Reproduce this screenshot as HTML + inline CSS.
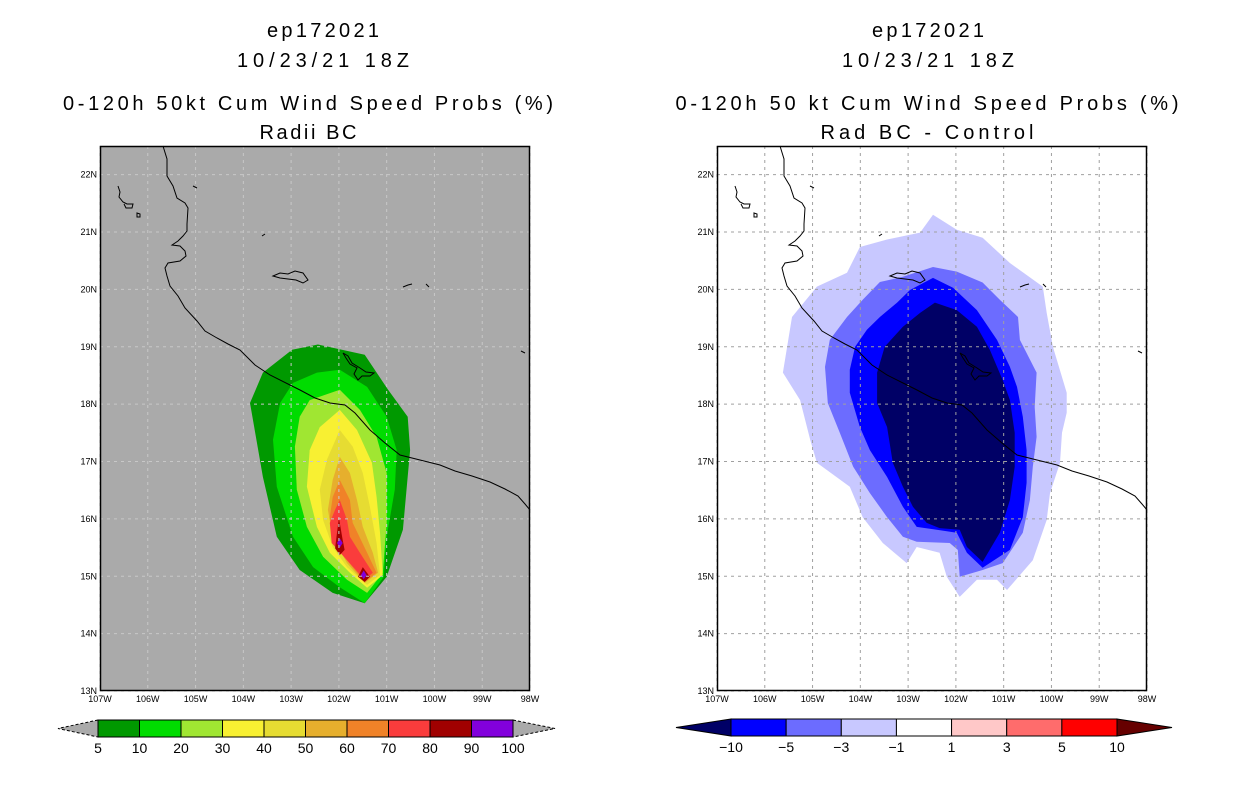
<!DOCTYPE html>
<html><head><meta charset="utf-8"><style>
html,body{margin:0;padding:0;background:#fff;}
svg{display:block;font-family:"Liberation Sans",sans-serif;}
</style></head><body>
<svg id="fig" width="1236" height="800" viewBox="0 0 1236 800">
<g id="titles" fill="#000" font-size="20" text-anchor="middle">
<text x="323" y="37" textLength="112">ep172021</text>
<text x="323" y="67" textLength="172">10/23/21 18Z</text>
<text x="308" y="110" textLength="490">0-120h 50kt Cum Wind Speed Probs (%)</text>
<text x="308" y="139" textLength="97">Radii BC</text>
<text x="928" y="37" textLength="112">ep172021</text>
<text x="928" y="67" textLength="172">10/23/21 18Z</text>
<text x="927" y="110" textLength="503">0-120h 50 kt Cum Wind Speed Probs (%)</text>
<text x="927" y="139" textLength="213">Rad BC - Control</text>
</g>
</svg>
<script>
// ---- data: contour polygons (lon in degrees W, lat in degrees N) ----
const leftLevels = [5,10,20,30,40,50,60,70,80,90,100];
const leftColors = ["#009900","#00dc00","#a0e632","#f8f032","#e6dc32","#e6af2d","#f08228","#fa3c3c","#a00000","#8200dc"];
const leftP5 = [[102.98,18.95],[102.44,19.04],[101.46,18.86],[100.97,18.25],[100.56,17.78],[100.51,17.20],[100.66,15.81],[101.0,14.99],[101.46,14.53],[102.13,14.71],[102.82,15.11],[103.30,15.69],[103.59,16.73],[103.86,18.02],[103.59,18.55]];
const leftP10 = [[102.96,18.37],[102.46,18.55],[101.98,18.60],[101.41,18.30],[101.00,17.78],[100.79,17.20],[100.83,16.51],[101.00,15.69],[101.06,14.99],[101.46,14.53],[101.98,14.81],[102.54,15.16],[102.96,15.69],[103.30,16.56],[103.38,17.38],[103.23,18.02]];
const leftP20 = [[102.61,18.07],[101.98,18.25],[101.56,17.90],[101.21,17.43],[101.00,16.80],[101.00,15.93],[101.08,15.06],[101.41,14.71],[101.83,14.94],[102.33,15.34],[102.67,15.86],[102.88,16.51],[102.92,17.26],[102.82,17.78]];
const leftP30 = [[101.98,17.90],[101.62,17.55],[101.31,16.98],[101.21,16.38],[101.14,15.76],[101.08,15.02],[101.41,14.80],[101.77,15.06],[102.19,15.41],[102.46,15.86],[102.67,16.56],[102.61,17.20],[102.40,17.60]];
const leftP40 = [[101.98,17.55],[101.71,17.26],[101.50,16.80],[101.35,16.21],[101.21,15.58],[101.14,15.02],[101.41,14.85],[101.83,15.16],[102.13,15.51],[102.33,15.98],[102.40,16.51],[102.25,17.03]];
const leftP50 = [[101.98,17.08],[101.77,16.80],[101.62,16.33],[101.50,15.86],[101.29,15.41],[101.18,15.06],[101.46,14.88],[101.83,15.23],[102.13,15.69],[102.23,16.16],[102.13,16.68]];
const leftP60 = [[101.98,16.68],[101.77,16.33],[101.71,15.93],[101.41,15.41],[101.21,15.06],[101.46,14.90],[101.83,15.28],[102.13,15.69],[102.19,16.03],[102.13,16.38]];
const leftP70 = [[101.98,16.33],[101.83,15.98],[101.77,15.69],[101.56,15.41],[101.29,15.06],[101.46,14.94],[101.83,15.28],[102.15,15.58],[102.19,15.93],[102.08,16.16]];
const leftP80a = [[102.00,16.02],[101.92,15.63],[101.88,15.46],[101.98,15.37],[102.08,15.49],[102.04,15.76]];
const leftP80b = [[101.50,15.16],[101.35,14.99],[101.46,14.90],[101.60,14.99]];
const leftP90a = [[101.98,15.66],[101.92,15.58],[101.98,15.50],[102.04,15.58]];
const leftP90b = [[101.48,15.10],[101.42,15.02],[101.48,14.95],[101.54,15.02]];
const leftPolys = [[leftP5,0],[leftP10,1],[leftP20,2],[leftP30,3],[leftP40,4],[leftP50,5],[leftP60,6],[leftP70,7],[leftP80a,8],[leftP80b,8],[leftP90a,9],[leftP90b,9]];

const rightLevels = ["-10","-5","-3","-1","1","3","5","10"];
const rightColors = ["#0000ff","#6c6cff","#c8c8ff","#ffffff","#ffc8c8","#ff6c6c","#ff0000"];
const rightLowColor = "#000066", rightHighColor = "#660000";
const rightM1 = [[102.48,21.30],[101.98,21.04],[101.44,20.90],[100.87,20.46],[100.18,20.05],[100.10,19.59],[99.97,19.00],[99.68,18.20],[99.68,17.85],[99.78,17.50],[99.82,16.98],[100.03,16.45],[100.10,15.98],[100.39,15.28],[100.93,14.76],[101.14,14.94],[101.56,14.94],[101.92,14.64],[102.19,14.99],[102.34,15.41],[102.82,15.51],[103.03,15.23],[103.53,15.58],[103.95,16.03],[104.22,16.56],[104.91,16.98],[105.05,17.38],[105.26,18.07],[105.62,18.55],[105.43,19.52],[104.91,20.05],[104.28,20.29],[104.01,20.74],[103.44,20.87],[102.75,20.99]];
const rightM3 = [[102.48,20.39],[101.98,20.31],[101.44,20.12],[101.08,19.82],[100.70,19.52],[100.66,19.12],[100.31,18.55],[100.35,17.95],[100.31,17.43],[100.39,16.91],[100.45,16.33],[100.60,15.76],[101.02,15.23],[101.44,15.11],[101.92,14.99],[101.96,15.46],[102.13,15.58],[102.82,15.60],[103.11,15.69],[103.44,16.03],[103.80,16.45],[104.15,16.91],[104.43,17.50],[104.68,18.02],[104.74,18.65],[104.64,19.12],[104.28,19.52],[103.95,19.82],[103.59,20.13],[103.11,20.22]];
const rightM5 = [[102.48,20.20],[102.06,20.03],[101.56,19.64],[101.14,19.12],[100.87,18.65],[100.72,18.30],[100.60,17.78],[100.52,17.20],[100.52,16.63],[100.60,16.03],[100.87,15.46],[101.44,15.15],[101.77,15.41],[101.98,15.76],[102.40,15.81],[102.82,15.86],[103.11,16.21],[103.44,16.73],[103.80,17.20],[104.01,17.60],[104.22,18.20],[104.22,18.60],[104.11,19.00],[103.86,19.30],[103.59,19.52],[103.23,19.77],[102.96,19.99]];
const rightM10 = [[102.44,19.77],[101.98,19.64],[101.56,19.35],[101.29,18.95],[101.02,18.42],[100.87,18.07],[100.77,17.50],[100.77,16.91],[100.87,16.33],[101.08,15.76],[101.44,15.25],[101.77,15.51],[101.92,15.81],[102.34,15.84],[102.61,15.93],[102.90,16.21],[103.11,16.56],[103.32,16.98],[103.44,17.60],[103.65,18.02],[103.65,18.55],[103.49,19.00],[103.11,19.35],[102.75,19.59]];
const rightPolys = [[rightM1,"#c8c8ff"],[rightM3,"#6c6cff"],[rightM5,"#0000ff"],[rightM10,"#000066"]];

const lonTicks = [107,106,105,104,103,102,101,100,99,98];
const latTicks = [13,14,15,16,17,18,19,20,21,22];

// ---- geometry ----
const PX0 = [100, 717], PY0 = 146, PW = 430, PH = 545;
const LON_W = 107, LON_E = 98, LAT_S = 13, LAT_N = 22.5;
function xS(p, lon){ return PX0[p] + (LON_W - lon) / (LON_W - LON_E) * PW; }
function yS(lat){ return PY0 + PH - (lat - LAT_S) / (LAT_N - LAT_S) * PH; }
const NS = "http://www.w3.org/2000/svg";
const svg = document.getElementById('fig');
function mk(tag, attrs, parent){ const e = document.createElementNS(NS, tag); for (const k in attrs) e.setAttribute(k, attrs[k]); (parent||svg).appendChild(e); return e; }
function ptsStr(p, poly){ return poly.map(q => xS(p,q[0]).toFixed(1)+","+yS(q[1]).toFixed(1)).join(" "); }

// coastline (panel-relative pixels, geographic outline not data)
const coast = "M63,0 L67,13 L67,30 L73,40 L77,52 L85,57 L88,62 L87,78 L87,85 L83,90 L78,95 L72,99 L80,100 L85,105 L86,110 L80,115 L68,117 L65,122 L67,130 L70,140 L78,150 L85,162 L97,175 L105,185 L117,192 L128,198 L140,204 L155,219 L170,229 L190,239 L200,244 L215,252 L230,257 L245,259 L255,267 L270,284 L285,297 L300,309 L320,314 L340,319 L355,325 L372,330 L390,336 L405,343 L418,350 L425,358 L430,364";
const islands = "M18,40 L20,46 L19,51 L23,56 L27,58 L33,58 L32,62 L26,62 L24,58 M37,67 L40,68 L40,71 L37,71 Z M93,40 L97,42 M162,90 L165,88 M173,130 L180,127 L188,128 L195,125 L203,127 L208,134 L203,137 L196,134 L188,133 L180,132 Z M303,141 L308,139 L312,138 M326,138 L329,141 M421,205 L425,207 M243,207 L246,212 L250,218 L257,222 L254,228 L258,234 L262,230 L270,230 L274,227 L266,226 L260,222 L252,217 L248,210 Z";

function drawPanel(p){
  const g = mk('g', {});
  
  
  const bg = mk('rect', {x:PX0[p], y:PY0, width:PW, height:PH, fill: p===0 ? '#aaaaaa' : '#ffffff'}, g);
  
  
  const polys = p===0 ? leftPolys.map(a => [a[0], leftColors[a[1]]]) : rightPolys;
  polys.forEach((a, i) => {
    const e = mk('polygon', {points: ptsStr(p, a[0]), fill: a[1]}, g);
    
    
  });
  const gg = mk('g', {stroke: p===0 ? '#c8c8c8' : '#a0a0a0', 'stroke-width':1, 'stroke-dasharray':'3,4'}, g);
  
  
  lonTicks.forEach(l => { mk('line', {x1:xS(p,l), x2:xS(p,l), y1:PY0, y2:PY0+PH}, gg); });
  latTicks.forEach(l => { mk('line', {x1:PX0[p], x2:PX0[p]+PW, y1:yS(l), y2:yS(l)}, gg); });
  const c = mk('path', {d: coast + " " + islands, fill:'none', stroke:'#000', 'stroke-width':1, transform:'translate('+PX0[p]+','+PY0+')'}, g);
  
  
  const fr = mk('rect', {x:PX0[p]+0.5, y:PY0+0.5, width:PW-1, height:PH-1, fill:'none', stroke:'#000', 'stroke-width':1.5}, g);
  
  
  lonTicks.forEach(l => {
    const t = mk('text', {x:xS(p,l), y:PY0+PH+11, 'font-size':9, 'text-anchor':'middle'}, g);
    t.textContent = l + 'W';
    
    
  });
  latTicks.forEach(l => {
    const t = mk('text', {x:PX0[p]-3, y:yS(l)+3, 'font-size':9, 'text-anchor':'end'}, g);
    t.textContent = l + 'N';
    
    
  });
}
drawPanel(0); drawPanel(1);

// colorbars
function colorbar(x0, x1, tipL, tipR, y0, y1, colors, labels, lowC, highC, dashed, name){
  const g = mk('g', {});
  
  
  const ym = (y0+y1)/2;
  const aL = mk('polygon', {points: x0+','+y0+' '+tipL+','+ym+' '+x0+','+y1, fill: lowC, stroke:'#000', 'stroke-width':1, 'stroke-dasharray': dashed?'3,2':'none'}, g);
  
  
  const aR = mk('polygon', {points: x1+','+y0+' '+tipR+','+ym+' '+x1+','+y1, fill: highC, stroke:'#000', 'stroke-width':1, 'stroke-dasharray': dashed?'3,2':'none'}, g);
  
  
  const w = (x1-x0)/colors.length;
  colors.forEach((c,i) => {
    const r = mk('rect', {x:x0+i*w, y:y0, width:w, height:y1-y0, fill:c, stroke:'#000', 'stroke-width':1}, g);
    
    
  });
  labels.forEach((l,i) => {
    const t = mk('text', {x:x0+i*w, y:y1+16, 'font-size':14, 'text-anchor':'middle'}, g);
    t.textContent = String(l).replace('-', '\u2212');
    
    
  });
}
colorbar(98, 513, 58, 555, 720, 737, leftColors, leftLevels, '#aaaaaa', '#aaaaaa', true, 'left-colorbar');
colorbar(731, 1117, 676, 1172, 719, 736, rightColors, rightLevels, rightLowColor, rightHighColor, false, 'right-colorbar');
</script>
</body></html>
